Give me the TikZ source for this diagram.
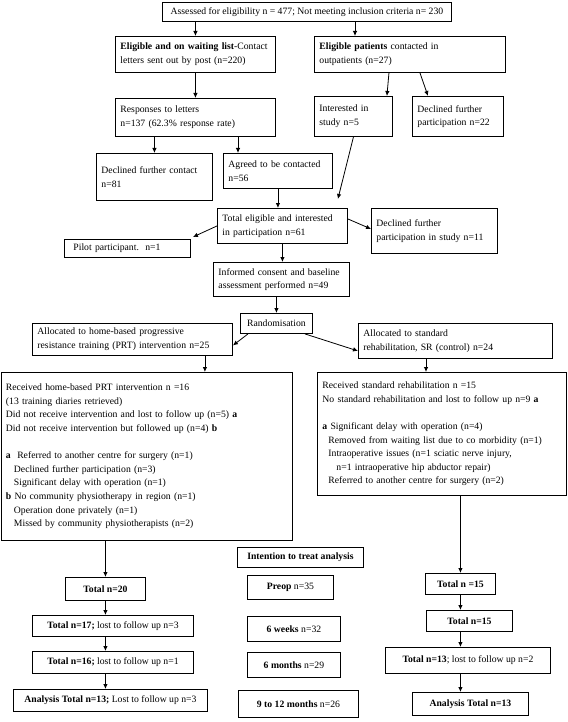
\documentclass[tikz,border=0pt]{standalone}
\usepackage{fontspec}
\setmainfont{Liberation Serif}
\usepackage{tikz}
\usetikzlibrary{arrows.meta}
\tikzset{box/.style={draw, line width=0.9pt, anchor=north west, align=left, inner xsep=5pt, inner ysep=2pt, font=\fontsize{9.7}{13.6}\selectfont}}
\tikzset{sbox/.style={box, align=center}}
\tikzset{arr/.style={line width=0.8pt, -{Latex[length=5pt,width=4.5pt]}}}

\begin{document}
\begin{tikzpicture}[x=1pt,y=-1pt]
\useasboundingbox (0,0) rectangle (567,722);

\node[sbox, minimum width=289pt, minimum height=19pt] (top) at (162,2) {Assessed for eligibility n = 477; Not meeting inclusion criteria n= 230};

\node[box, text width=150pt, minimum height=36pt] (wait) at (115,36) {\textbf{Eligible and on waiting list}-Contact\\letters sent out by post (n=220)};
\node[box, text width=181pt, minimum height=36pt] (outp) at (314,36) {\textbf{Eligible patients} contacted in\\outpatients (n=27)};

\node[box, text width=150pt, minimum height=38pt] (resp) at (115,98) {Responses to letters\\n=137 (62.3\% response rate)};
\node[box, text width=68pt, minimum height=40pt] (inter) at (314,96) {Interested in\\study n=5};
\node[box, text width=81pt, minimum height=40pt] (decl22) at (412,96) {Declined further\\participation n=22};

\node[box, text width=106pt, minimum height=47pt] (decl81) at (96,153) {Declined further contact\\n=81};
\node[box, text width=99pt, minimum height=35pt] (agreed) at (223,153) {Agreed to be contacted\\n=56};

\node[box, text width=120pt, minimum height=35pt] (total) at (217,208) {Total eligible and interested\\in participation n=61};
\node[box, text width=116pt, minimum height=45pt] (decl11) at (371,208) {Declined further\\participation in study n=11};
\node[box, text width=116pt, minimum height=18pt] (pilot) at (64,239) {\hspace*{4pt}Pilot participant.\ \ n=1};

\node[box, text width=126pt, minimum height=34pt] (consent) at (213,262) {Informed consent and baseline\\assessment performed n=49};
\node[sbox, minimum width=72pt, minimum height=20pt] (random) at (240,313) {Randomisation};

\node[box, text width=190pt, minimum height=32pt] (prt) at (32,323) {Allocated to home-based progressive\\resistance training (PRT) intervention n=25};
\node[box, text width=184pt, minimum height=35pt] (sr) at (358,323) {Allocated to standard\\rehabilitation, SR (control) n=24};

\node[box, text width=281pt, minimum height=168pt] (prtrec) at (0.5,372) {Received home-based PRT intervention n =16\\
(13 training diaries retrieved)\\
Did not receive intervention and lost to follow up (n=5) \textbf{a}\\
Did not receive intervention but followed up (n=4) \textbf{b}\\[13.6pt]
\textbf{a}\ \ Referred to another centre for surgery (n=1)\\
\hspace*{8pt}Declined further participation (n=3)\\
\hspace*{8pt}Significant delay with operation (n=1)\\
\textbf{b} No community physiotherapy in region (n=1)\\
\hspace*{8pt}Operation done privately (n=1)\\
\hspace*{8pt}Missed by community physiotherapists (n=2)};
\node[box, text width=239pt, minimum height=123pt] (srrec) at (317,372) {Received standard rehabilitation n =15\\
No standard rehabilitation and lost to follow up n=9 \textbf{a}\\[13.6pt]
\textbf{a} Significant delay with operation (n=4)\\
\hspace*{6pt}Removed from waiting list due to co morbidity (n=1)\\
\hspace*{6pt}Intraoperative issues (n=1 sciatic nerve injury,\\
\hspace*{14pt}n=1 intraoperative hip abductor repair)\\
\hspace*{6pt}Referred to another centre for surgery (n=2)};

\node[sbox, minimum width=80pt, minimum height=23pt] (tot20) at (65,577) {\textbf{Total n=20}};
\node[sbox, minimum width=161pt, minimum height=21pt] (tot17) at (32,615) {\textbf{Total n=17;} lost to follow up n=3};
\node[sbox, minimum width=161pt, minimum height=22pt] (tot16) at (32,651) {\textbf{Total n=16;} lost to follow up n=1};
\node[sbox, minimum width=194pt, minimum height=22pt] (anal1) at (13,689) {\textbf{Analysis Total n=13;} Lost to follow up n=3};

\node[sbox, minimum width=126pt, minimum height=20pt] (itt) at (237,547) {\textbf{Intention to treat analysis}};
\node[sbox, minimum width=86pt, minimum height=24pt] (preop) at (247,575) {\textbf{Preop} n=35};
\node[sbox, minimum width=93pt, minimum height=25pt] (wk6) at (247,616) {\textbf{6 weeks} n=32};
\node[sbox, minimum width=93pt, minimum height=25pt] (mo6) at (247,652) {\textbf{6 months} n=29};
\node[sbox, minimum width=120pt, minimum height=27pt] (mo912) at (238,690) {\textbf{9 to 12 months} n=26};

\node[sbox, minimum width=70pt, minimum height=21pt] (totr15a) at (425,573) {\textbf{Total n =15}};
\node[sbox, minimum width=86pt, minimum height=21pt] (totr15b) at (426,610) {\textbf{Total n=15}};
\node[sbox, minimum width=165pt, minimum height=26pt] (totr13) at (385,647) {\textbf{Total n=13}; lost to follow up n=2};
\node[sbox, minimum width=116pt, minimum height=23pt] (anal2) at (412,692) {\textbf{Analysis Total n=13}};

\draw[arr] (top.south -| wait.north) -- (wait.north);
\draw[arr] ([xshift=41pt]outp.north west |- top.south) -- ([xshift=41pt]outp.north west);
\draw[arr] (wait.south) -- (resp.north);
\draw[arr] ([xshift=-21pt]outp.south) -- ([xshift=-6pt]inter.north east);
\draw[arr] ([xshift=10pt]outp.south) -- ([xshift=16pt]decl22.north west);
\draw[arr] (resp.south -| decl81.north) -- (decl81.north);
\draw[arr] ([xshift=15pt]agreed.north west |- resp.south) -- ([xshift=15pt]agreed.north west);
\draw[arr] (agreed.south) -- (agreed.south |- total.north);
\draw[arr] (inter.south) -- ([xshift=-10pt,yshift=9pt]total.north east);
\draw[arr] (total.west) -- ([xshift=2pt,yshift=2pt]pilot.north east);
\draw[arr] ([yshift=7pt]total.east) -- ([yshift=2pt]decl11.west);
\draw[arr] (total.south) -- (total.south |- consent.north);
\draw[arr] (consent.south -| random.north) -- (random.north);
\draw[arr] ([xshift=8pt]random.south west) -- ([yshift=-6pt]prt.east);
\draw[arr] ([xshift=-8pt]random.south east) -- ([yshift=-10pt]sr.west);
\draw[arr] ([xshift=-28pt]prt.south east) -- ([xshift=-28pt]prt.south east |- prtrec.north);
\draw[arr] ([xshift=68pt]sr.south west) -- ([xshift=68pt]sr.south west |- srrec.north);

\draw[arr] (prtrec.south -| tot20.north) -- (tot20.north);
\draw[arr] (tot20.south) -- (tot20.south |- tot17.north);
\draw[arr] (tot17.south -| tot20) -- (tot16.north -| tot20);
\draw[arr] (tot16.south -| tot20) -- (anal1.north -| tot20);

\draw[arr] (srrec.south -| totr15a.north) -- (totr15a.north);
\draw[arr] (totr15a.south) -- (totr15a.south |- totr15b.north);
\draw[arr] (totr15b.south -| totr15a) -- (totr13.north -| totr15a);
\draw[arr] (totr13.south -| totr15a) -- (anal2.north -| totr15a);
\end{tikzpicture}
\end{document}
